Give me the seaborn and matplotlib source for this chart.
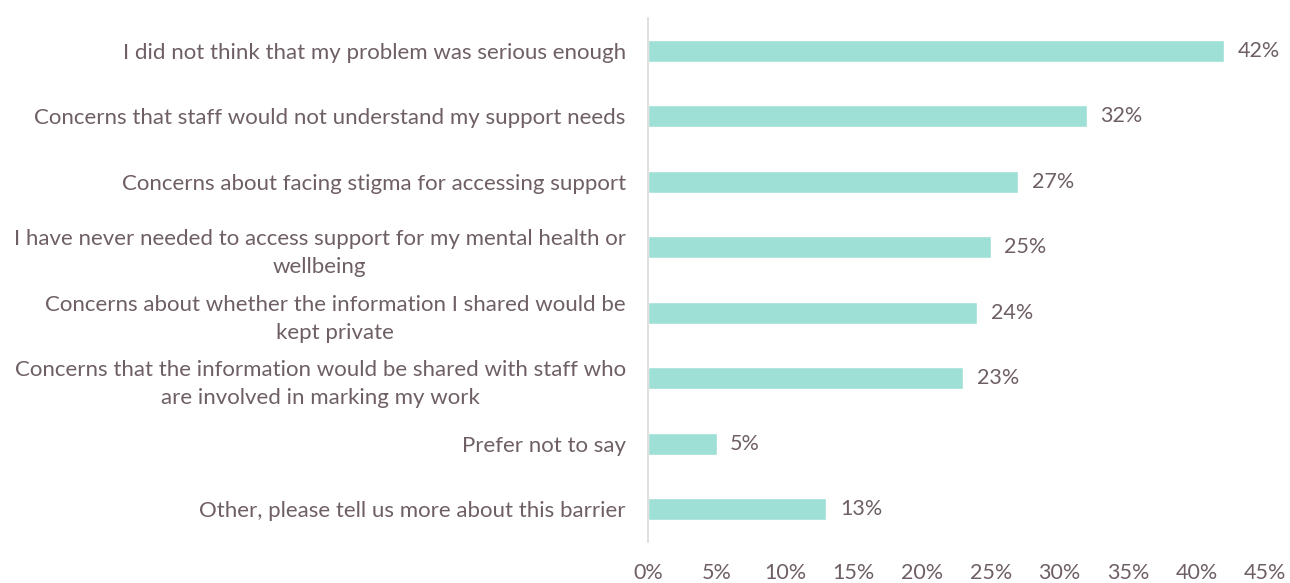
import matplotlib
matplotlib.use("Agg")
import matplotlib.pyplot as plt
import seaborn as sns
import pandas as pd
from matplotlib.ticker import FuncFormatter, MultipleLocator

categories = [
    "I did not think that my problem was serious enough",
    "Concerns that staff would not understand my support needs",
    "Concerns about facing stigma for accessing support",
    "I have never needed to access support for my mental health or\nwellbeing",
    "Concerns about whether the information I shared would be\nkept private",
    "Concerns that the information would be shared with staff who\nare involved in marking my work",
    "Prefer not to say",
    "Other, please tell us more about this barrier",
]
values = [42, 32, 27, 25, 24, 23, 5, 13]

df = pd.DataFrame({"barrier": categories, "pct": values})

sns.set_theme(style="white")
plt.rcParams["font.family"] = ["Lato", "DejaVu Sans"]

text_color = "#6E5F66"
bar_color = "#9FE0D6"

fig = plt.figure(figsize=(12.9, 5.83), dpi=100)
ax = fig.add_axes([0.5023, 0.0703, 0.4783, 0.8987])

sns.barplot(data=df, x="pct", y="barrier", color=bar_color, width=0.34,
            saturation=1, ax=ax, orient="h")

ax.set_xlim(0, 45)
ax.xaxis.set_major_locator(MultipleLocator(5))
ax.xaxis.set_major_formatter(FuncFormatter(lambda v, p: f"{v:.0f}%"))
ax.set_xlabel("")
ax.set_ylabel("")

for s in ["top", "right", "bottom"]:
    ax.spines[s].set_visible(False)
ax.spines["left"].set_color("#D9D9D9")
ax.spines["left"].set_linewidth(1.2)

ax.tick_params(axis="x", length=0, pad=15, labelsize=15.5, labelcolor=text_color)
ax.tick_params(axis="y", length=0, pad=16, labelsize=16, labelcolor=text_color)
for lbl in ax.get_yticklabels():
    lbl.set_multialignment("center")
    lbl.set_linespacing(1.5)

for i, v in enumerate(values):
    ax.text(v + 1.0, i, f"{v}%", va="center", ha="left", fontsize=15.5,
            color=text_color)

fig.savefig("out.png", dpi=100)
